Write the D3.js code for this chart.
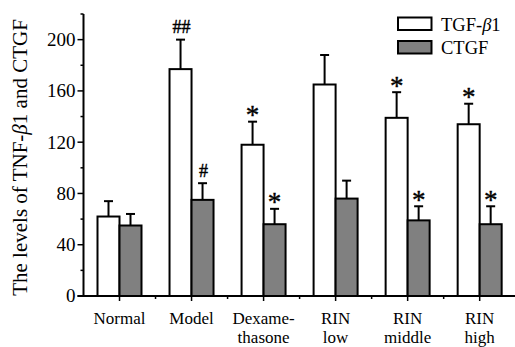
<!DOCTYPE html>
<html>
<head>
<meta charset="utf-8">
<script src="https://cdn.jsdelivr.net/npm/d3@7"></script>
<style>
  body { margin: 0; background: #fff; }
  svg { display: block; font-family: "Liberation Serif", "Times New Roman", serif; }
</style>
</head>
<body>
<svg id="chart" width="515" height="347"></svg>
<script>
// data
const categories = [["Normal"], ["Model"], ["Dexame-", "thasone"], ["RIN", "low"], ["RIN", "middle"], ["RIN", "high"]];
const tgfMean = [62, 177, 118, 165, 139, 134];
const tgfSd = [12, 23, 18, 23, 20, 16];
const ctgfMean = [55, 75, 56, 76, 59, 56];
const ctgfSd = [9, 13, 12, 14, 11, 14];
const tgfMarks = ["", "##", "*", "", "*", "*"];
const ctgfMarks = ["", "#", "*", "", "*", "*"];
const seriesNames = ["TGF-β1", "CTGF"];
const seriesFill = ["#ffffff", "#808080"];
const yTicks = [0, 40, 80, 120, 160, 200];

const svg = d3.select("#chart");
const plotLeft = 83.5, plotBottom = 296, plotTop = 14, plotRight = 515.7;

const y = d3.scaleLinear().domain([0, 220]).range([plotBottom, plotTop]);
const x = d3.scaleBand().domain(d3.range(categories.length)).range([plotLeft, plotRight]).padding(0);
const xs = d3.scaleBand().domain([0, 1]).range([14, 58]);

// rows: one per bar
const rows = [];
categories.forEach((c, i) => {
  rows.push({ i, s: 0, v: tgfMean[i], sd: tgfSd[i], mark: tgfMarks[i] });
  rows.push({ i, s: 1, v: ctgfMean[i], sd: ctgfSd[i], mark: ctgfMarks[i] });
});

const g = svg.append("g");

// bars
g.selectAll("rect.bar").data(rows).enter().append("rect")
  .attr("class", "bar")
  .attr("x", d => x(d.i) + xs(d.s))
  .attr("y", d => y(d.v))
  .attr("width", xs.bandwidth())
  .attr("height", d => y(0) - y(d.v))
  .attr("fill", d => seriesFill[d.s])
  .attr("stroke", "#000")
  .attr("stroke-width", 2);

// error bars (upper only)
const cx = d => x(d.i) + xs(d.s) + xs.bandwidth() / 2;
g.selectAll("line.err").data(rows).enter().append("line")
  .attr("x1", cx).attr("x2", cx)
  .attr("y1", d => y(d.v)).attr("y2", d => y(d.v + d.sd))
  .attr("stroke", "#000").attr("stroke-width", 2);
g.selectAll("line.cap").data(rows).enter().append("line")
  .attr("x1", d => cx(d) - 4.5).attr("x2", d => cx(d) + 4.5)
  .attr("y1", d => y(d.v + d.sd)).attr("y2", d => y(d.v + d.sd))
  .attr("stroke", "#000").attr("stroke-width", 2);

// significance marks
g.selectAll("text.mark").data(rows.filter(d => d.mark)).enter().append("text")
  .attr("x", d => cx(d) + (d.mark.startsWith("#") ? 1 : 0))
  .attr("y", d => y(d.v + d.sd) - (d.mark.startsWith("#") ? 6.5 : -2.5))
  .attr("text-anchor", "middle")
  .attr("font-size", d => d.mark.startsWith("#") ? 18 : 27)
  .attr("stroke", "#000").attr("stroke-width", 0.4)
  .text(d => d.mark);

// y axis
const yAxis = g.append("g");
yAxis.append("line").attr("x1", plotLeft).attr("x2", plotLeft).attr("y1", plotTop).attr("y2", plotBottom)
  .attr("stroke", "#000").attr("stroke-width", 2);
yAxis.selectAll("line.minor").data(d3.range(20, 221, 40)).enter().append("line")
  .attr("x1", plotLeft - 3).attr("x2", plotLeft).attr("y1", d => y(d)).attr("y2", d => y(d))
  .attr("stroke", "#000").attr("stroke-width", 1.5);
yAxis.selectAll("line.major").data(yTicks).enter().append("line")
  .attr("x1", plotLeft - 6).attr("x2", plotLeft).attr("y1", d => y(d)).attr("y2", d => y(d))
  .attr("stroke", "#000").attr("stroke-width", 1.5);
yAxis.selectAll("text").data(yTicks).enter().append("text")
  .attr("x", plotLeft - 8).attr("y", d => y(d)).attr("dy", "0.34em")
  .attr("text-anchor", "end").attr("font-size", 19)
  .text(d => d);

// x axis
const xAxis = g.append("g");
xAxis.append("line").attr("x1", plotLeft - 6).attr("x2", 515).attr("y1", plotBottom).attr("y2", plotBottom)
  .attr("stroke", "#000").attr("stroke-width", 2);
xAxis.selectAll("line.major").data(d3.range(categories.length)).enter().append("line")
  .attr("x1", d => x(d) + x.bandwidth() / 2).attr("x2", d => x(d) + x.bandwidth() / 2)
  .attr("y1", plotBottom).attr("y2", plotBottom + 5)
  .attr("stroke", "#000").attr("stroke-width", 1.5);
xAxis.selectAll("line.minor").data(d3.range(1, categories.length)).enter().append("line")
  .attr("x1", d => x(d)).attr("x2", d => x(d))
  .attr("y1", plotBottom).attr("y2", plotBottom + 3)
  .attr("stroke", "#000").attr("stroke-width", 1.5);
const xl = xAxis.selectAll("text").data(categories).enter().append("text")
  .attr("x", (d, i) => x(i) + x.bandwidth() / 2)
  .attr("y", 323.5)
  .attr("text-anchor", "middle").attr("font-size", 17);
xl.selectAll("tspan").data(d => d).enter().append("tspan")
  .attr("x", function () { return this.parentNode.getAttribute("x"); })
  .attr("dy", (d, k) => k ? 19 : 0)
  .text(d => d);

// y title
const yt = svg.append("text")
  .attr("transform", "translate(27,157.5) rotate(-90)")
  .attr("text-anchor", "middle").attr("font-size", 21);
yt.append("tspan").text("The levels of TNF-");
yt.append("tspan").attr("font-style", "italic").text("β");
yt.append("tspan").text("1 and CTGF");

// legend
const leg = svg.append("g");
seriesNames.forEach((name, k) => {
  const ly = 17.5 + k * 23.5;
  leg.append("rect").attr("x", 398).attr("y", ly).attr("width", 33.5).attr("height", 12.5)
    .attr("fill", seriesFill[k]).attr("stroke", "#000").attr("stroke-width", 2);
  const t = leg.append("text").attr("x", 441).attr("y", ly + 13).attr("font-size", 18.5);
  if (k === 0) {
    t.append("tspan").text("TGF-");
    t.append("tspan").attr("font-style", "italic").text("β");
    t.append("tspan").text("1");
  } else {
    t.text(name);
  }
});
</script>
</body>
</html>
